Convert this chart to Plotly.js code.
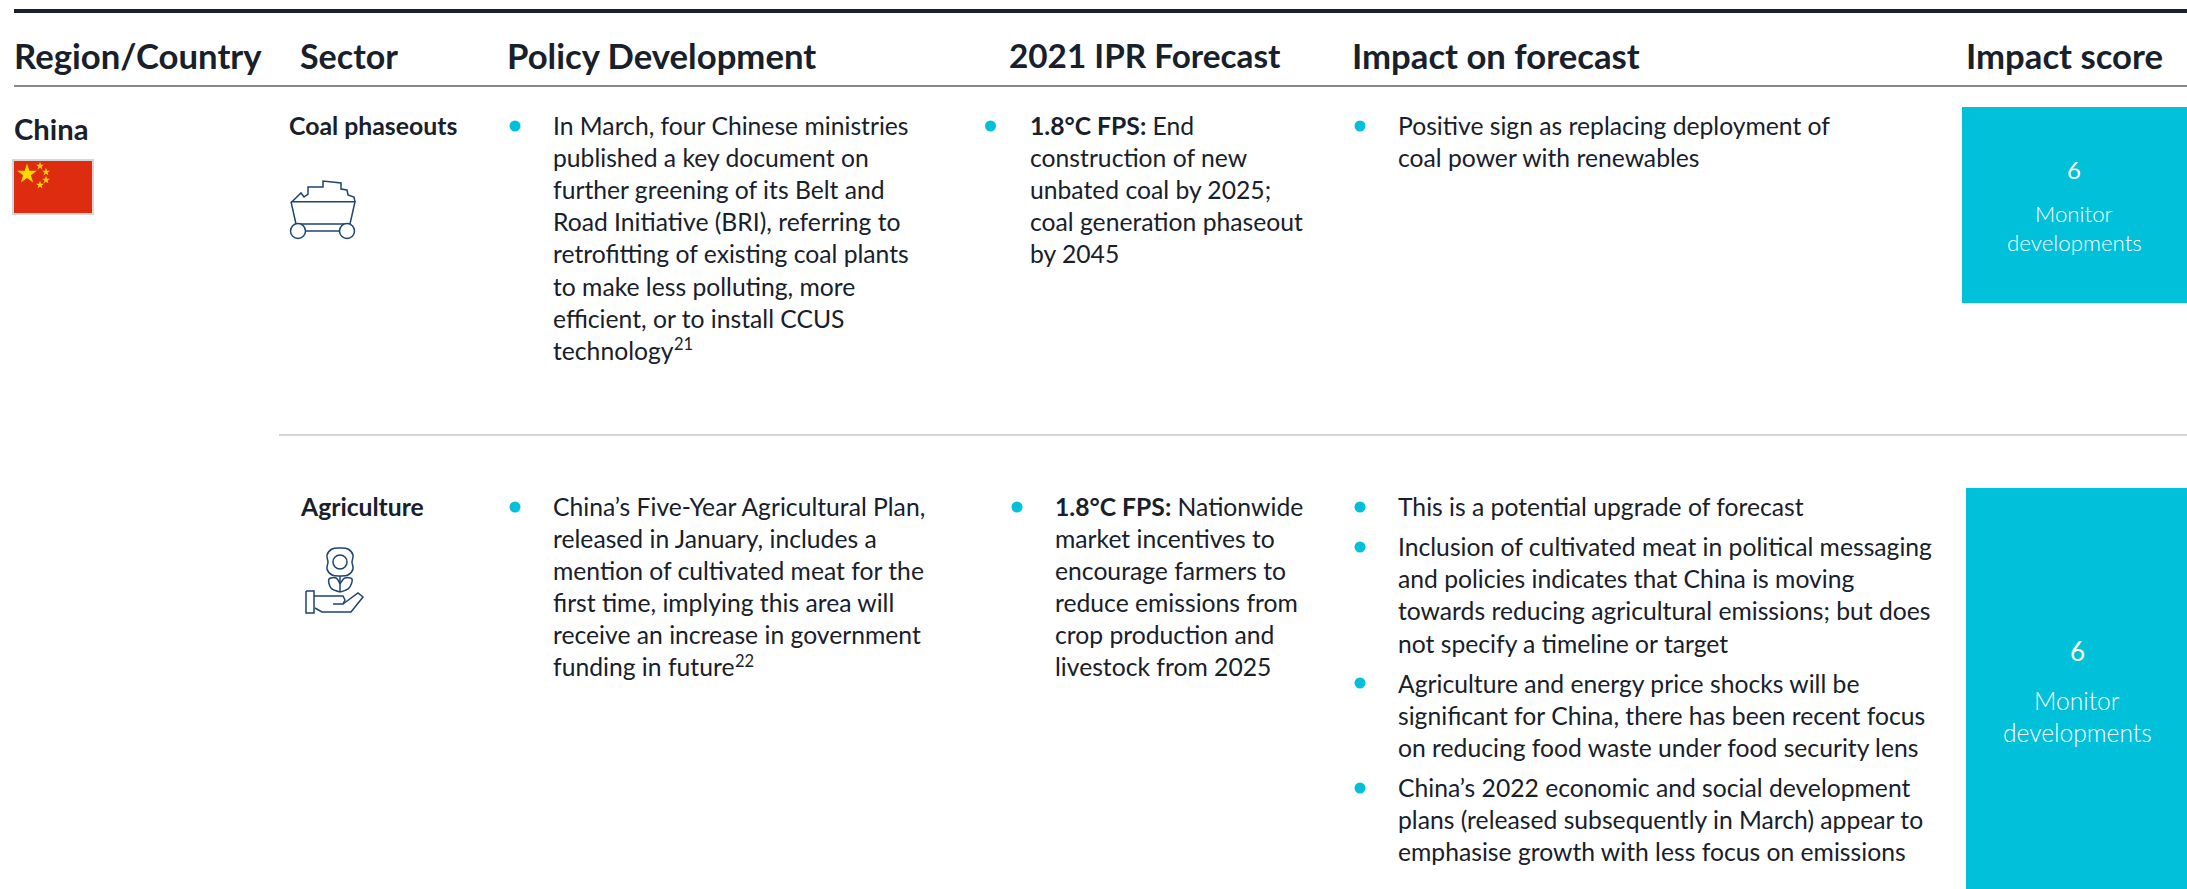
<!DOCTYPE html>
<html><head><meta charset="utf-8">
<script src="https://cdn.plot.ly/plotly-3.0.1.min.js"></script>
<style>html,body{margin:0;padding:0;background:#fff}#c{width:2187px;height:889px}</style>
</head><body><div id="c"></div>
<script>
var FONT='Lato, "Open Sans", sans-serif';
var INK='#17202b', CYAN='#00c0da', NAVY='#1c4473';

var headers=['Region/Country','Sector','Policy Development','2021 IPR Forecast','Impact on forecast','Impact score'];
var headerX=[14,300,507,1009,1352,1966];
var headerSize=[34.7,34,34.7,33.3,34.7,34.7];

var policyCoal=['In March, four Chinese ministries','published a key document on','further greening of its Belt and','Road Initiative (BRI), referring to','retrofitting of existing coal plants','to make less polluting, more','efficient, or to install CCUS','technology'];
var forecastCoal=['<b>1.8°C FPS:</b> End','construction of new','unbated coal by 2025;','coal generation phaseout','by 2045'];
var impactCoal=['Positive sign as replacing deployment of','coal power with renewables'];
var policyAg=['China’s Five-Year Agricultural Plan,','released in January, includes a','mention of cultivated meat for the','first time, implying this area will','receive an increase in government','funding in future'];
var forecastAg=['<b>1.8°C FPS:</b> Nationwide','market incentives to','encourage farmers to','reduce emissions from','crop production and','livestock from 2025'];
var impactAg1=['This is a potential upgrade of forecast'];
var impactAg2=['Inclusion of cultivated meat in political messaging','and policies indicates that China is moving','towards reducing agricultural emissions; but does','not specify a timeline or target'];
var impactAg3=['Agriculture and energy price shocks will be','significant for China, there has been recent focus','on reducing food waste under food security lens'];
var impactAg4=['China’s 2022 economic and social development','plans (released subsequently in March) appear to','emphasise growth with less focus on emissions'];

var bulletX=[515,990.5,1360,515,1017,1360,1360,1360,1360];
var bulletY=[126,126,126,507,507,507,547,683,788];

var anns=[], shapes=[], traces=[];
function txt(t,x,y,size,color,anchor,weight){
  anns.push({text:t,x:x,y:y,xref:'x',yref:'y',xanchor:anchor||'left',yanchor:'middle',showarrow:false,align:anchor||'left',
    font:{family:FONT,size:size,color:color||INK,weight:weight||400},borderpad:0,borderwidth:0});
}
function block(lines,x,y0,step,size){lines.forEach(function(l,i){txt(l,x,y0+i*step,size||24.7);});}
function rect(x0,x1,y0,y1,fill,line,w){shapes.push({type:'rect',xref:'x',yref:'y',x0:x0,x1:x1,y0:y0,y1:y1,fillcolor:fill,line:{color:line||fill,width:w||0},layer:'below'});}
function hline(x0,x1,y,c,w){shapes.push({type:'line',xref:'x',yref:'y',x0:x0,x1:x1,y0:y,y1:y,line:{color:c,width:w}});}
function path(xs,ys,smooth){traces.push({type:'scatter',mode:'lines',x:xs,y:ys,hoverinfo:'skip',showlegend:false,line:{color:NAVY,width:1.5,shape:smooth?'spline':'linear'}});}

hline(14,2187,11,INK,4);
hline(14,2187,86,'#888888',2);
hline(279,2187,435,'#c9c9c9',1.5);

headers.forEach(function(h,i){txt('<b>'+h+'</b>',headerX[i],55,headerSize[i]);});
txt('<b>China</b>',14,128,29.2);
txt('<b>Coal phaseouts</b>',289,125,24.8);
txt('<b>Agriculture</b>',300,506,24.7);

block(policyCoal,553,125,32.2);
block(forecastCoal,1030,125,32.2);
block(impactCoal,1398,125,32.2);
block(policyAg,553,506,32);
block(forecastAg,1055,506,32);
block(impactAg1,1398,506,32.2);
block(impactAg2,1398,546.5,32.2);
block(impactAg3,1398,683,32.2);
block(impactAg4,1398,787,32.2);
// footnote marks
txt('21',674,344,16.5);
txt('22',735,661,16.5);

traces.push({type:'scatter',mode:'markers',x:bulletX,y:bulletY,hoverinfo:'skip',showlegend:false,marker:{color:CYAN,size:11,line:{width:0}}});

// score boxes
rect(1962,2187,107,303,CYAN);
rect(1966,2187,488,889,CYAN);
txt('6',2074,169,24,'#ffffff','center');
txt('Monitor',2074,213,22.3,'#ffffff','center',300);
txt('developments',2074,242,22.3,'#ffffff','center',300);
txt('6',2077,651,26,'#ffffff','center');
txt('Monitor',2077,700,24.6,'#ffffff','center',300);
txt('developments',2077,732,24.6,'#ffffff','center',300);

// flag
rect(13,93,160,214,'#de2c10','#d6d6d6',2);
traces.push({type:'scatter',mode:'markers',x:[27],y:[174],hoverinfo:'skip',showlegend:false,marker:{symbol:'star',color:'#ffd800',size:15,line:{width:0}}});
traces.push({type:'scatter',mode:'markers',x:[40,46,46,40],y:[166,172,180,185],hoverinfo:'skip',showlegend:false,marker:{symbol:'star',color:'#ffd800',size:6,line:{width:0}}});

// coal cart icon
path([291,355,350,296,291],[201.7,201.7,224,224,201.7]);
path([292,301,304,308,308,323,323,341,341,347,348,354,355],[201.7,193,197,194,187,187,181,183,189,190,195,197,201.7]);
path([305,340],[231,231]);
traces.push({type:'scatter',mode:'markers',x:[298,347],y:[231,231],hoverinfo:'skip',showlegend:false,marker:{size:15,color:'#fff',line:{color:NAVY,width:1.5}}});
// flower in hand icon
path([332,340,348,353,352,353,348,340,332,327,328,327,332],[549,548,549,555,562,569,575,576,575,569,562,555,549],true);
traces.push({type:'scatter',mode:'markers',x:[340],y:[562],hoverinfo:'skip',showlegend:false,marker:{size:14,color:'rgba(0,0,0,0)',line:{color:NAVY,width:1.5}}});
path([340,340],[576,592]);
path([340,331,329,336,340],[592,588,579,578,584],true);
path([340,349,352,345,340],[592,588,579,578,584],true);
path([306,314,314,306,306],[591,591,613,613,591]);
path([314,343,345,343,333],[596,596,600,604,604]);
path([343,358,363,351,322,315],[604,593,597,612,612,608]);

var layout={width:2187,height:889,margin:{l:0,r:0,t:0,b:0},paper_bgcolor:'#fff',plot_bgcolor:'#fff',showlegend:false,
 xaxis:{range:[0,2187],visible:false,fixedrange:true},
 yaxis:{range:[889,0],visible:false,fixedrange:true},
 annotations:anns,shapes:shapes};
Plotly.newPlot('c',traces,layout,{displayModeBar:false,staticPlot:true});
</script></body></html>
